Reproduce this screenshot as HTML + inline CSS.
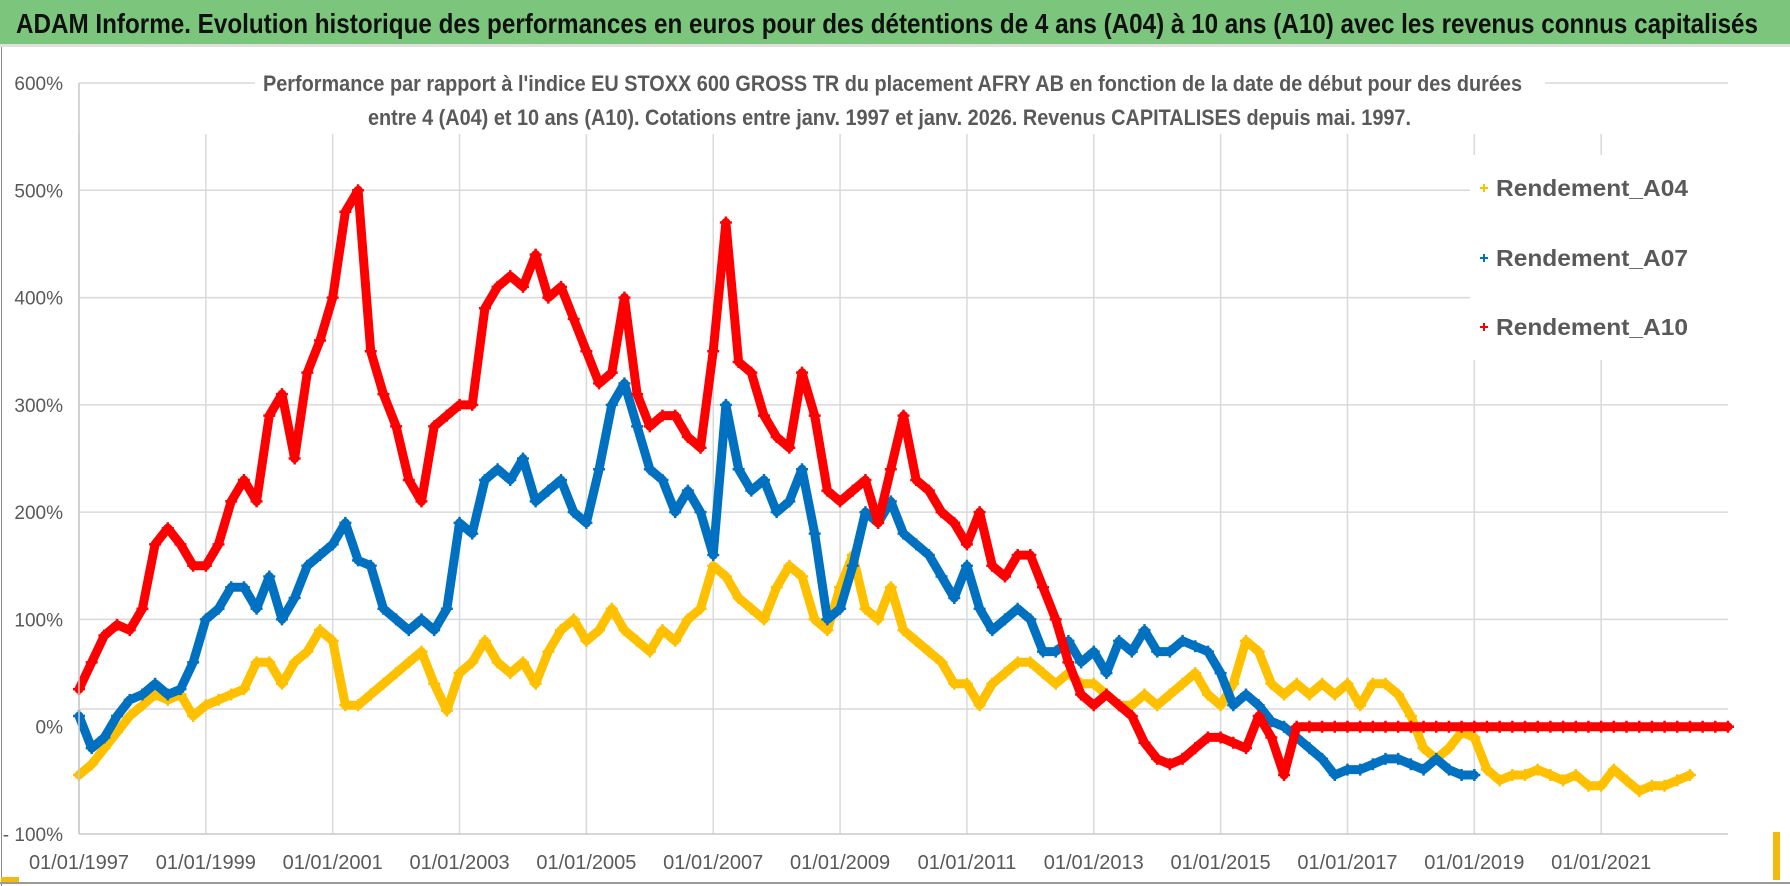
<!DOCTYPE html>
<html><head><meta charset="utf-8"><style>
html,body{margin:0;padding:0;background:#fff;}
svg{display:block;font-family:"Liberation Sans Narrow","Liberation Sans",sans-serif;}
</style></head><body>
<svg id="chart" width="1790" height="886" viewBox="0 0 1790 886">
<rect x="0" y="0" width="1790" height="886" fill="#fff"/>
<rect x="0" y="0" width="1790" height="44" fill="#7cc57c"/>
<rect x="0" y="44" width="1790" height="3" fill="#e0e0e0"/>
<text x="16" y="33" font-size="28" font-weight="bold" fill="#111" textLength="1742" lengthAdjust="spacingAndGlyphs">ADAM Informe. Evolution historique des performances en euros pour des détentions de 4 ans (A04) à 10 ans (A10) avec les revenus connus capitalisés</text>
<rect x="1" y="47" width="1" height="839" fill="#8a8a8a"/>
<rect x="0" y="882" width="1790" height="2" fill="#9a9a9a"/>
<rect x="1" y="877" width="18" height="5" fill="#f2b90f"/>
<rect x="1773" y="832" width="7" height="48" fill="#f2b90f"/>
<g id="grid"></g>
<g id="series"></g>
<rect x="255" y="66" width="1290" height="68" fill="#fff"/>
<text x="263" y="91" font-size="22" font-weight="bold" fill="#595959" textLength="1259" lengthAdjust="spacingAndGlyphs">Performance par rapport à l'indice EU STOXX 600 GROSS TR  du placement AFRY AB en fonction de la date de début pour des durées</text>
<text x="368" y="125" font-size="22" font-weight="bold" fill="#595959" textLength="1043" lengthAdjust="spacingAndGlyphs">entre 4 (A04) et 10 ans (A10).  Cotations entre janv. 1997 et janv. 2026. Revenus CAPITALISES depuis mai. 1997.</text>
<g id="legend">
<rect x="1470" y="155" width="258" height="205" fill="#fff"/>
</g>
<g id="axes"></g>
</svg>
<script>
const yTicks = [600, 500, 400, 300, 200, 100, 0, -100];
const yTickLabels = ["600%", "500%", "400%", "300%", "200%", "100%", "0%", "- 100%"];
const xTicks = [1997, 1999, 2001, 2003, 2005, 2007, 2009, 2011, 2013, 2015, 2017, 2019, 2021];
const xTickLabels = ["01/01/1997","01/01/1999","01/01/2001","01/01/2003","01/01/2005","01/01/2007","01/01/2009","01/01/2011","01/01/2013","01/01/2015","01/01/2017","01/01/2019","01/01/2021"];
const seriesNames = ["Rendement_A04", "Rendement_A07", "Rendement_A10"];
const seriesStart = 1997;
const seriesStep = 0.2;
const a04 = [-45,-35,-20,-5,10, 20,30,25,30,10, 20,25,30,35,60, 60,40,60,70,90, 80,20,20,30,40,
  50,60,70,40,15, 50,60,80,60,50, 60,40,70,90,100, 80,90,110,90,80, 70,90,80,100,110,
  150,140,120,110,100, 130,150,140,100,90, 130,160,110,100,130, 90,80,70,60,40,
  40,20,40,50,60, 60,50,40,50,40, 40,30,20,20,30, 20,30,40,50,30, 20,40,80,70,40,
  30,40,30,40,30, 40,20,40,40,30, 10,-20,-30,-20,-5, -10,-40,-50,-45,-45,
  -40,-45,-50,-45,-55, -55,-40,-50,-60,-55, -55,-50,-45];
const a07 = [10,-20,-10,10,25, 30,40,30,35,60, 100,110,130,130,110, 140,100,120,150,160,
  170,190,155,150,110, 100,90,100,90,110, 190,180,230,240,230, 250,210,220,230,200,
  190,240,300,320,280, 240,230,200,220,200, 160,300,240,220,230, 200,210,240,180,100,
  110,150,200,190,210, 180,170,160,140,120, 150,110,90,100,110, 100,70,70,80,60,
  70,50,80,70,90, 70,70,80,75,70, 50,20,30,20,5, 0,-10,-20,-30,-45,
  -40,-40,-35,-30,-30, -35,-40,-30,-40,-45, -45];
const a10 = [35,60,85,95,90, 110,170,185,170,150, 150,170,210,230,210, 290,310,250,330,360,
  400,480,500,350,310, 280,230,210,280,290, 300,300,390,410,420, 410,440,400,410,380,
  350,320,330,400,310, 280,290,290,270,260, 350,470,340,330,290, 270,260,330,290,220,
  210,220,230,190,240, 290,230,220,200,190, 170,200,150,140,160, 160,130,100,60,30,
  20,30,20,10,-15, -30,-35,-30,-20,-10, -10,-15,-20,10,-10, -45,
  0,0,0,0,0,0,0,0,0,0,0,0,0,0,0,0,0,0,0,0,0,0,0,0,0,0,0,0,0,0,0,0,0,0,0];
const seriesColors = ["#ffc000", "#0070c0", "#ff0000"];

const NS = "http://www.w3.org/2000/svg";
const X0 = 79, X1 = 1728, XMIN = 1997, XMAX = 2023;
const YTOP = 83, YBOT = 834, VMAX = 600, VMIN = -100;
function xs(t){ return X0 + (t - XMIN) / (XMAX - XMIN) * (X1 - X0); }
function ys(v){ return YTOP + (VMAX - v) / (VMAX - VMIN) * (YBOT - YTOP); }
function mk(tag, attrs, parent){ const e = document.createElementNS(NS, tag); for (const k in attrs) e.setAttribute(k, attrs[k]); parent.appendChild(e); return e; }

const grid = document.getElementById('grid');
const axes = document.getElementById('axes');
yTicks.forEach((v, i) => {
  let y = ys(v);
  if (v === 0) y = 709;
  if (v !== VMIN) {
    const l = mk('line', {x1: X0, x2: X1, y1: y, y2: y, stroke: '#d9d9d9', 'stroke-width': 1.5}, grid);
    
    
  }
  const t = mk('text', {x: 63, y: ys(v) + 7, 'text-anchor': 'end', 'font-size': 19, fill: '#595959'}, axes);
  t.textContent = yTickLabels[i];
  
  
});
xTicks.forEach((yr, i) => {
  const x = xs(yr);
  const l = mk('line', {x1: x, x2: x, y1: 134, y2: YBOT, stroke: '#d9d9d9', 'stroke-width': 1.5}, grid);
  
  
  const t = mk('text', {x: x, y: 869, 'text-anchor': 'middle', 'font-size': 20, fill: '#595959'}, axes);
  t.textContent = xTickLabels[i];
  
  
});
const xa = mk('line', {x1: X0, x2: X1, y1: YBOT, y2: YBOT, stroke: '#c8c8c8', 'stroke-width': 1.5}, axes);


const ya = mk('line', {x1: X0, x2: X0, y1: YTOP, y2: YBOT, stroke: '#c8c8c8', 'stroke-width': 1.5}, axes);



const layer = document.getElementById('series');
[a04, a07, a10].forEach((vals, si) => {
  const g = mk('g', {}, layer);
  
  
  const pts = vals.map((v, i) => xs(seriesStart + i * seriesStep).toFixed(1) + ',' + ys(v).toFixed(1)).join(' ');
  const pl = mk('polyline', {points: pts, fill: 'none', stroke: seriesColors[si], 'stroke-width': 9, 'stroke-linejoin': 'round', 'stroke-linecap': 'round'}, g);
  
  
  vals.forEach((v, i) => {
    const x = xs(seriesStart + i * seriesStep), y = ys(v);
    const p = mk('path', {d: `M${x-6},${y}h12M${x},${y-6}v12`, stroke: seriesColors[si], 'stroke-width': 2.5}, g);
    
    
  });
});

const legend = document.getElementById('legend');
const legendY = [188, 258, 327];
seriesNames.forEach((n, i) => {
  const y = legendY[i];
  const m = mk('path', {d: `M1480,${y}h8M1484,${y-4}v8`, stroke: seriesColors[i], 'stroke-width': 2}, legend);
  
  
  const t = mk('text', {x: 1496, y: y + 8, 'font-size': 23, 'font-weight': 'bold', fill: '#595959', textLength: 192, lengthAdjust: 'spacingAndGlyphs'}, legend);
  t.textContent = n;
  
  
});
</script>
</body></html>
